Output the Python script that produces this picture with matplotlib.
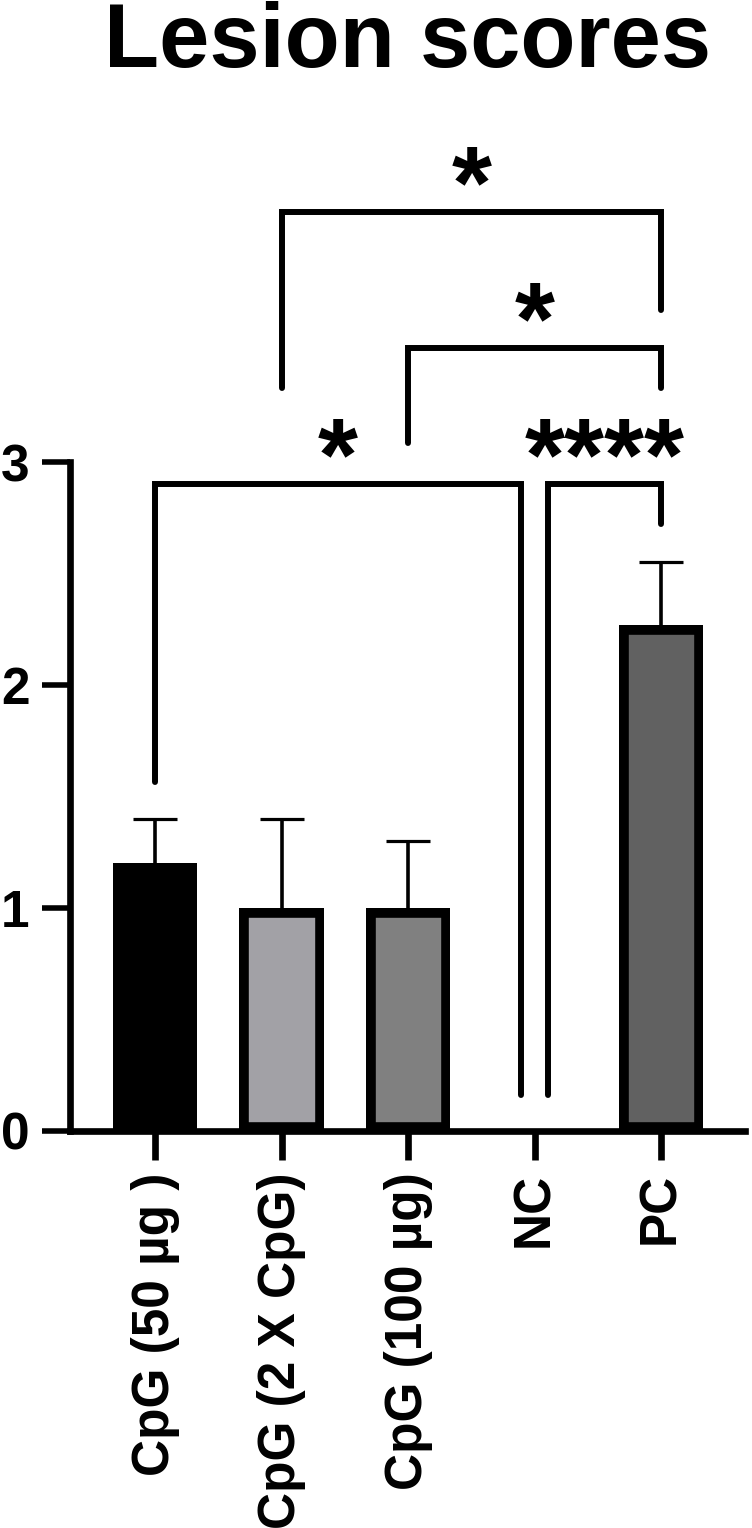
import matplotlib
matplotlib.use('Agg')
import matplotlib.pyplot as plt
import numpy as np

plt.rcParams['font.family'] = ['Liberation Sans', 'DejaVu Sans']
plt.rcParams['font.weight'] = 'bold'

# ── Data ──────────────────────────────────────────────────────────────────────
groups = ['CpG (50 µg )', 'CpG (2 X CpG)', 'CpG (100 µg)', 'NC', 'PC']
means = np.array([1.2, 1.0, 1.0, 0.0, 2.27])
sems = np.array([0.2, 0.4, 0.3, 0.0, 0.28])
fills = ['#000000', '#a2a1a6', '#808080', '#808080', '#616161']

# significance brackets (group index left / right, label, heights in data units)
comp_left = [0, 3, 2, 1]
comp_right = [3, 4, 4, 4]
comp_labels = ['*', '****', '*', '*']
bracket_y = [2.9, 2.9, 3.51, 4.12]
left_drop = [1.565, 0.16, 3.085, 3.33]
right_drop = [0.16, 2.72, 3.33, 3.68]
left_shift = [0.0, 0.105, 0.0, 0.0]
right_shift = [-0.11, 0.0, 0.0, 0.0]

# ── Figure ────────────────────────────────────────────────────────────────────
fig = plt.figure(figsize=(7.52, 15.28), dpi=100)
ax = fig.add_axes([70 / 752, (1528 - 1131) / 1528, 675 / 752, 4.5 * 223 / 1528])

x = np.arange(len(groups))
bars = ax.bar(x, means, width=0.665, color=fills, edgecolor='black',
              linewidth=13.4, zorder=3)
for b in bars:
    b.set_clip_path(b)   # keep the thick edge inside the bar

has = sems > 0
eb = ax.errorbar(x[has], means[has], yerr=[np.zeros(has.sum()), sems[has]],
                 fmt='none', ecolor='black', elinewidth=2.6, capsize=15.8,
                 capthick=2.3, zorder=2)
for cl in eb[1]:
    if np.allclose(cl.get_ydata(), means[has]):
        cl.set_visible(False)

# ── Brackets ──────────────────────────────────────────────────────────────────
for k in range(len(comp_left)):
    xl = comp_left[k] + left_shift[k]
    xr = comp_right[k] + right_shift[k]
    yb = bracket_y[k]
    ax.plot([xl, xl, xr, xr], [left_drop[k], yb, yb, right_drop[k]],
            color='black', lw=4.3, solid_capstyle='round',
            solid_joinstyle='miter', clip_on=False, zorder=4)
    ax.annotate(comp_labels[k], xy=((xl + xr) / 2, yb), xytext=(0, -4),
                textcoords='offset points', ha='center', va='baseline',
                fontsize=74, fontweight='bold')

# ── Axes formatting ───────────────────────────────────────────────────────────
ax.set_xlim(-0.672, 4.664)
ax.set_ylim(0, 4.5)
ax.set_yticks([0, 1, 2, 3])
ax.set_xticks(x)
ax.set_xticklabels(groups, rotation=90, va='top', ha='center')
ax.tick_params(axis='y', length=20, width=4, pad=9, labelsize=37)
ax.tick_params(axis='x', length=21, width=4.8, pad=9, labelsize=37)

ax.spines[['top', 'right']].set_visible(False)
ax.spines['left'].set_bounds(0, 3)
for s in ['left', 'bottom']:
    ax.spines[s].set_linewidth(4.8)
    ax.spines[s].set_zorder(5)

fig.text(407.5 / 752, 1 - 67 / 1528, 'Lesion scores', ha='center',
         va='baseline', fontsize=65, fontweight='bold')

fig.savefig('out.png', dpi=100)
